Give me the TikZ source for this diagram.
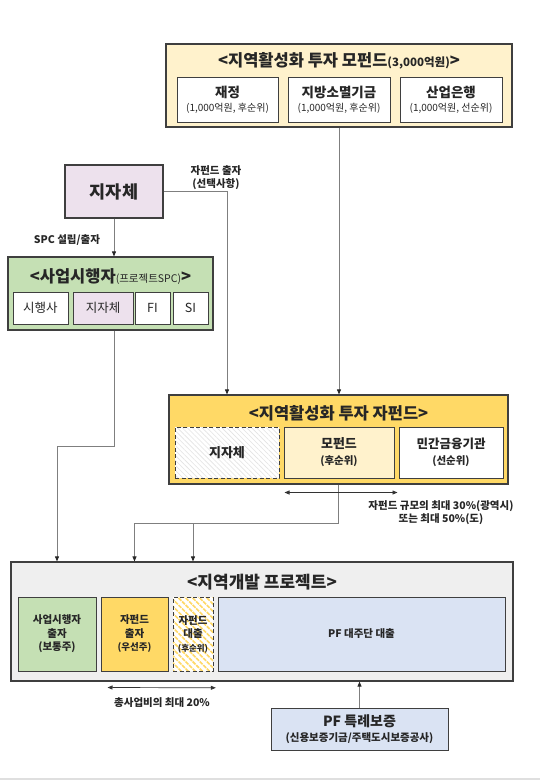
\documentclass[tikz,border=0pt]{standalone}
\usepackage{fontspec}
\setmainfont{Noto Sans CJK KR}
\usetikzlibrary{positioning}
\usetikzlibrary{calc}
\usetikzlibrary{arrows.meta}
\usetikzlibrary{patterns.meta}

\definecolor{boxline}{HTML}{3F3F3F}
\definecolor{conline}{HTML}{7F7F7F}
\definecolor{ink}{HTML}{262626}
\definecolor{cream}{HTML}{FFF2CC}
\definecolor{gold}{HTML}{FFD966}
\definecolor{lavender}{HTML}{EDE1ED}
\definecolor{leaf}{HTML}{C5E0B4}
\definecolor{paleblue}{HTML}{DAE3F3}
\definecolor{panel}{HTML}{EFEFEF}

\newcommand{\smalltxt}[1]{{\fontsize{10}{11.5}\selectfont #1}}

\tikzset{
	every node/.style={text=ink},
	frame/.style={draw=boxline,line width=1.2pt,inner sep=0pt},
	cell/.style={draw=boxline,line width=1pt,inner sep=0pt,align=center},
	heading/.style={font=\fontsize{16.5}{19}\selectfont\bfseries,inner sep=0pt},
	note/.style={font=\fontsize{10.5}{12.5}\selectfont\bfseries,align=center,inner sep=0pt},
	conn/.style={draw=conline,line width=0.8pt,-{Triangle[length=5pt,width=4pt,color=black!85]}},
	span/.style={draw=black!80,line width=0.7pt,{Triangle[length=5pt,width=4pt]}-{Triangle[length=5pt,width=4pt]}},
	hatch/.style n args={3}{dash pattern=on 4pt off 2.5pt,preaction={fill=white},
		pattern={Lines[angle=-45,distance=#2,line width=#3]},pattern color=#1},
}

\begin{document}
\begin{tikzpicture}[x=1pt,y=-1pt]

	\useasboundingbox (0,0) rectangle (540,780);
	\fill [gray!25] (0,778) rectangle (540,780);

	% mother fund..........................
	\node [frame,fill=cream,minimum width=346pt,minimum height=83pt] (mofund) at (339,85.5) {};
	\node [heading] (motitle) at (339,61) {<지역활성화 투자 모펀드{\fontsize{11.5}{13}\selectfont(3,000억원)}>};
	\node [cell,fill=white,minimum width=101pt,minimum height=45pt,font=\fontsize{13.5}{15}\selectfont\bfseries] (jaejeong) at (227.5,99.5) {재정\\[-1pt]\smalltxt{\mdseries(1,000억원, 후순위)}};
	\node [cell,fill=white,minimum width=102pt,minimum height=45pt,font=\fontsize{13.5}{15}\selectfont\bfseries] (jibang) at (339,99.5) {지방소멸기금\\[-1pt]\smalltxt{\mdseries(1,000억원, 후순위)}};
	\node [cell,fill=white,minimum width=102pt,minimum height=45pt,font=\fontsize{13.5}{15}\selectfont\bfseries] (sanup) at (451,99.5) {산업은행\\[-1pt]\smalltxt{\mdseries(1,000억원, 선순위)}};

	% local government.....................
	\node [frame,fill=lavender,minimum width=98pt,minimum height=53pt,font=\fontsize{17.5}{20}\selectfont\bfseries] (jijache) at (114,191.5) {지자체};

	% project SPC..........................
	\node [frame,fill=leaf,minimum width=205pt,minimum height=73pt] (spc) at (110.5,293.5) {};
	\node [heading] (spctitle) at (110.5,277) {<사업시행자{\mdseries\fontsize{10.5}{12}\selectfont(프로젝트SPC)}>};
	\node [cell,fill=white,minimum width=55pt,minimum height=32pt,font=\fontsize{12.5}{14}\selectfont] (sihaeng) at (40.5,308) {시행사};
	\node [cell,fill=lavender,minimum width=60pt,minimum height=32pt,font=\fontsize{12.5}{14}\selectfont] (spcjj) at (103,308) {지자체};
	\node [cell,fill=white,minimum width=35pt,minimum height=32pt,font=\fontsize{12.5}{14}\selectfont] (fi) at (152.5,308) {FI};
	\node [cell,fill=white,minimum width=35pt,minimum height=32pt,font=\fontsize{12.5}{14}\selectfont] (si) at (190.5,308) {SI};

	% sub fund.............................
	\node [frame,fill=gold,minimum width=339pt,minimum height=89pt] (jafund) at (338.5,439.5) {};
	\node [heading] (jatitle) at (338.5,413) {<지역활성화 투자 자펀드>};
	\node [cell,draw=boxline,hatch={gray!22}{3.5pt}{0.6pt},minimum width=104pt,minimum height=51pt,font=\fontsize{13}{15}\selectfont\bfseries] (jfjj) at (227,452.5) {지자체};
	\node [cell,fill=cream,minimum width=110pt,minimum height=51pt,font=\fontsize{13}{16}\selectfont\bfseries] (jfmo) at (339,452.5) {모펀드\\{\fontsize{10.5}{12}\selectfont(후순위)}};
	\node [cell,fill=white,minimum width=104pt,minimum height=51pt,font=\fontsize{12.5}{16}\selectfont\bfseries] (jfpriv) at (451,452.5) {민간금융기관\\{\fontsize{10.5}{12}\selectfont(선순위)}};

	% regional project.....................
	\node [frame,fill=panel,minimum width=502pt,minimum height=119pt] (project) at (262,621.5) {};
	\node [heading,font=\fontsize{17}{19}\selectfont\bfseries] (prtitle) at (262,582) {<지역개발 프로젝트>};
	\node [cell,fill=leaf,minimum width=78pt,minimum height=74pt,font=\fontsize{10.5}{13.5}\selectfont\bfseries] (pa) at (57,634) {사업시행자\\출자\\(보통주)};
	\node [cell,fill=gold,minimum width=67pt,minimum height=74pt,font=\fontsize{10.5}{13.5}\selectfont\bfseries] (pb) at (134.5,634) {자펀드\\출자\\{\fontsize{9.5}{11}\selectfont(우선주)}};
	\node [cell,draw=boxline,hatch={gold}{5pt}{1.6pt},minimum width=40pt,minimum height=74pt,font=\fontsize{10.5}{13.5}\selectfont\bfseries] (pc) at (193,634) {자펀드\\대출\\{\fontsize{8.5}{10}\selectfont(후순위)}};
	\node [cell,fill=paleblue,minimum width=287pt,minimum height=74pt,font=\fontsize{10.5}{13.5}\selectfont\bfseries] (pd) at (361.5,634) {PF 대주단 대출};

	% guarantee............................
	\node [frame,line width=1pt,fill=paleblue,minimum width=177pt,minimum height=42pt,align=center,font=\fontsize{14}{16}\selectfont\bfseries] (pfguar) at (359.5,729) {PF 특례보증\\[-1pt]{\fontsize{10.5}{12}\selectfont(신용보증기금/주택도시보증공사)}};

	% connectors...........................
	\draw [conn] (mofund.south) -- (mofund.south |- jafund.north);
	\draw [conn] (jijache.east) -| (jfjj.center |- jafund.north);
	\node [note] (optlbl) at (216,177.5) {자펀드 출자\\(선택사항)};
	\draw [conn] (jijache.south) -- (jijache.south |- spc.north);
	\node [note] (spclbl) at (67,240) {SPC 설립/출자};
	\draw [conn] (jijache.south |- spc.south) -- ++(0,116) -| (pa.center |- project.north);
	\coordinate (split) at ($(jafund.south)+(0,39)$);
	\draw [conn] (jafund.south) -- (split) -| (pb.center |- project.north);
	\draw [conn] (pc.center |- split) -- (pc.center |- project.north);
	\draw [conn] (pfguar.north) -- (pfguar.north |- project.south);

	% share limits.........................
	\draw [span] ($(jfmo.south west)+(1,14)$) -- ($(jfmo.south east)+(3,14)$);
	\node [note] (jalimit) at (441,512.5) {자펀드 규모의 최대 30\%(광역시)\\또는 최대 50\%(도)};
	\draw [span] ($(pb.south west)+(7,16)$) -- ($(pc.south east)+(2,16)$);
	\node [note] (prlimit) at (162,703) {총사업비의 최대 20\%};

\end{tikzpicture}
\end{document}
